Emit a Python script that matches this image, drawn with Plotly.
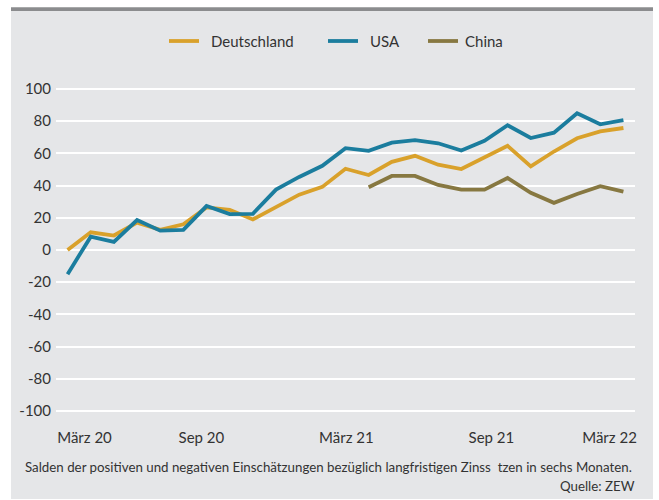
import plotly.graph_objects as go

# ---------------- data ----------------
months = ["Mär 20", "Apr 20", "Mai 20", "Jun 20", "Jul 20", "Aug 20", "Sep 20", "Okt 20", "Nov 20", "Dez 20",
          "Jan 21", "Feb 21", "Mär 21", "Apr 21", "Mai 21", "Jun 21", "Jul 21", "Aug 21", "Sep 21", "Okt 21",
          "Nov 21", "Dez 21", "Jan 22", "Feb 22", "Mär 22"]
deutschland = [0, 11, 9, 17, 12.5, 16, 26.5, 25, 19, 26.8, 34.4, 39.2, 50.5, 46.6, 54.8, 58.5, 53,
               50.3, 57.5, 64.7, 51.9, 61.2, 69.4, 73.7, 75.8]
usa = [-15, 8.3, 5, 18.6, 12, 12.5, 27.3, 22.3, 22.5, 37.5, 45.4, 52.3, 63.3, 61.6, 66.7, 68.2, 66.3,
       61.8, 67.8, 77.5, 69.6, 72.9, 84.9, 78.1, 80.7]
china = [None] * 13 + [39, 46, 46, 40.4, 37.5, 37.5, 44.7, 35.5, 29.3, 34.8, 39.6, 36.3]
tick_labels = ["März 20", "Sep 20", "März 21", "Sep 21", "März 22"]
y_ticks = list(range(-100, 101, 20))
footnote = "Salden der positiven und negativen Einschätzungen bezüglich langfristigen Zinss\u00a0\u00a0tzen in sechs Monaten."
source = "Quelle: ZEW"

# ---------------- layout constants ----------------
W, H = 659, 500
ML, MR, MT, MB = 56, 24, 81, 81
PW, PH = W - ML - MR, H - MT - MB
tick_positions = [0.73, 5.78, 12.04, 18.3, 23.4]
legend_pos = [(169, 209), (328, 368), (428, 463)]  # (line start px, text start px)

def px_x(p):
    return (p - ML) / PW

def px_y(p):
    return (H - MB - p) / PH

x = list(range(len(months)))
FONT = "Lato, 'Open Sans', sans-serif"
TXT = "#333333"

series = [("Deutschland", deutschland, "#d9a12b"),
          ("USA", usa, "#1b7d9e"),
          ("China", china, "#877841")]

fig = go.Figure()
shapes = [
    dict(type="rect", xref="paper", yref="paper", x0=px_x(11), x1=px_x(653), y0=px_y(499), y1=px_y(11),
         fillcolor="#e5e6e8", line=dict(width=0), layer="below"),
    dict(type="rect", xref="paper", yref="paper", x0=px_x(11), x1=px_x(653), y0=px_y(11), y1=px_y(7.3),
         fillcolor="#8b8c8e", line=dict(width=0), layer="below"),
]
annotations = [
    dict(text=footnote, xref="paper", yref="paper", x=px_x(23), y=px_y(467), xanchor="left",
         yanchor="middle", showarrow=False, font=dict(size=13.3, color=TXT)),
    dict(text=source, xref="paper", yref="paper", x=px_x(637), y=px_y(486), xanchor="right",
         yanchor="middle", showarrow=False, font=dict(size=13.3, color=TXT)),
]

for (name, vals, col), (lx, tx) in zip(series, legend_pos):
    fig.add_trace(go.Scatter(x=x, y=vals, name=name, mode="lines", showlegend=False,
                             line=dict(color=col, width=3.8),
                             text=months, hovertemplate="%{text}: %{y}<extra>" + name + "</extra>"))
    shapes.append(dict(type="line", xref="paper", yref="paper", x0=px_x(lx), x1=px_x(lx + 30),
                       y0=px_y(41), y1=px_y(41), line=dict(color=col, width=3.8)))
    annotations.append(dict(text=name, xref="paper", yref="paper", x=px_x(tx), y=px_y(41),
                            xanchor="left", yanchor="middle", showarrow=False,
                            font=dict(size=15, color=TXT)))

fig.update_layout(
    width=W, height=H,
    margin=dict(l=ML, r=MR, t=MT, b=MB, pad=0),
    paper_bgcolor="white",
    plot_bgcolor="#e5e6e8",
    font=dict(family=FONT, size=15, color=TXT),
    showlegend=False,
    xaxis=dict(range=[-0.5, 24.5], showgrid=False, zeroline=False, showline=False,
               tickmode="array", tickvals=tick_positions, ticktext=tick_labels,
               ticks="", ticklabelstandoff=8, tickfont=dict(size=15, color=TXT)),
    yaxis=dict(range=[-105, 105], tickmode="array", tickvals=y_ticks,
               ticktext=[str(v) for v in y_ticks],
               showgrid=True, gridcolor="white", gridwidth=1.6, zeroline=False, showline=False,
               ticks="", ticklabelstandoff=4, tickfont=dict(size=15, color=TXT)),
    shapes=shapes,
    annotations=annotations,
)

fig.write_html("out.html", config={"displayModeBar": False},
               post_script="document.body.style.margin='0';")
